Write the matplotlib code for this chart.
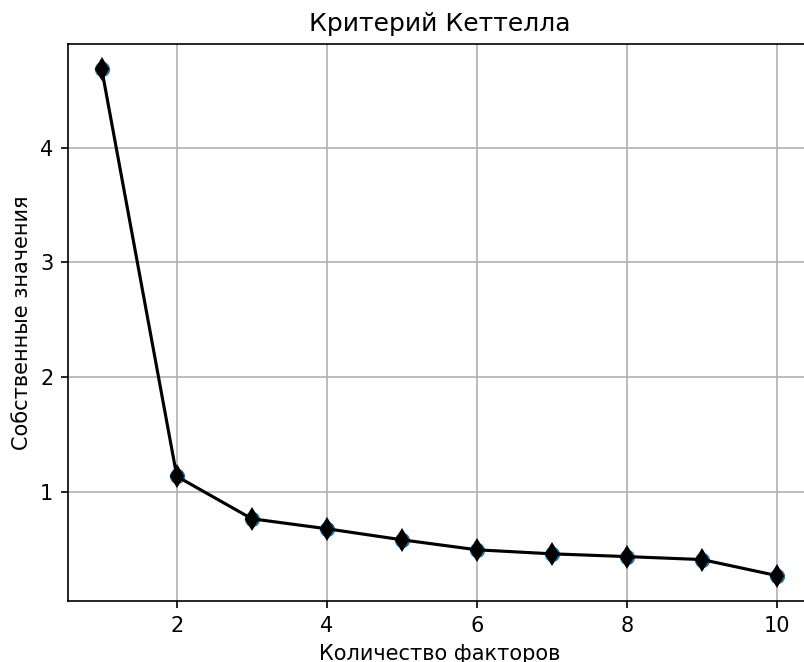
import matplotlib
matplotlib.use("Agg")
import matplotlib.pyplot as plt

factors = [1, 2, 3, 4, 5, 6, 7, 8, 9, 10]
eigenvalues = [4.68, 1.14, 0.771, 0.684, 0.588, 0.501, 0.466, 0.442, 0.416, 0.276]

title = "Критерий Кеттелла"
xlabel = "Количество факторов"
ylabel = "Собственные значения"

dpi = 150
fig = plt.figure(figsize=(804 / dpi, 662 / dpi), dpi=dpi)
ax = fig.add_axes([68 / 804, 61 / 662, (811 - 68) / 804, (601 - 44) / 662])

ax.scatter(factors, eigenvalues, s=40, color="C0", zorder=2)
ax.plot(factors, eigenvalues, "kd-", markersize=7, zorder=3)
ax.set_title(title)
ax.set_xlabel(xlabel)
ax.set_ylabel(ylabel)
ax.grid(True)

fig.savefig("out.png", dpi=dpi)
